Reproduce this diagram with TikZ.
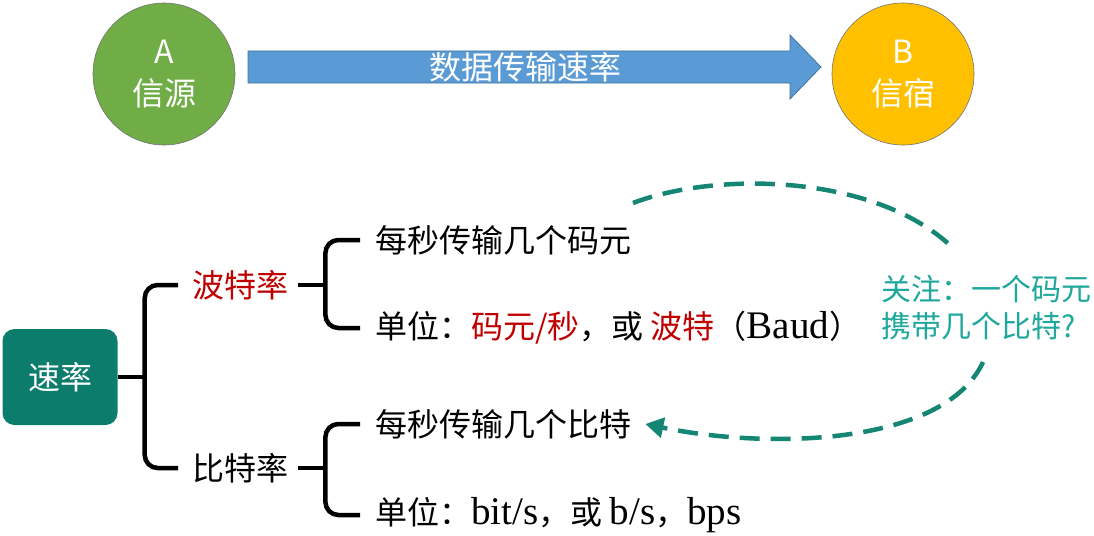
\documentclass[tikz,border=0pt]{standalone}
\usepackage{fontspec}
\newfontfamily\cjk{Noto Sans CJK SC}
\newfontfamily\latinserif[Scale=1.22]{Liberation Serif}
\usepackage{xcolor}
\definecolor{srcgreen}{HTML}{70AD47}
\definecolor{sinkgold}{HTML}{FFC000}
\definecolor{pipeblue}{HTML}{5B9BD5}
\definecolor{pipeedge}{HTML}{41719C}
\definecolor{ratebox}{HTML}{0C7D6D}
\definecolor{notecyan}{HTML}{1DA89B}
\definecolor{dashteal}{HTML}{148673}
\definecolor{baudred}{HTML}{C00000}
\usetikzlibrary{positioning, calc, arrows.meta}

\begin{document}
\begin{tikzpicture}[x=1pt, y=-1pt,
  every node/.style={inner sep=0pt, font=\cjk\fontsize{32}{36}\selectfont},
  station/.style={circle, draw=black!55, line width=0.6pt, minimum size=142pt,
    text=white, align=center, font=\cjk\fontsize{32}{42}\selectfont},
  leaf/.style={anchor=west},
  brk/.style={line width=4.5pt, rounded corners=13pt},
  hint/.style={dashteal, line width=4.5pt, dash pattern=on 20pt off 11pt},
]
\useasboundingbox[fill=white] (0,0) rectangle (1094,535);

% 信源 -> 信宿
\node[station, fill=srcgreen] (src) at (164,74) {A\\信源};
\node[station, fill=sinkgold] (sink) at (903,74) {B\\信宿};
\fill[pipeblue, draw=pipeedge, line width=0.8pt]
  (248,51) -- (790,51) -- (790,35) -- (821,67) -- (790,99) -- (790,83) -- (248,83) -- cycle;
\node[text=white] (pipe) at (525,67) {数据传输速率};

% 速率
\node[rounded corners=12pt, fill=ratebox, minimum width=115pt, minimum height=96pt,
  text=white] (rate) at (60,377) {速率};
\node[leaf, text=baudred] (baud) at (192,285) {波特率};
\node[leaf] (bit) at (192,468) {比特率};

\node[leaf] (symdef) at (375,240) {每秒传输几个码元};
\node[leaf] (symunit) at (375,328)
  {单位：\textcolor{baudred}{码元/秒}，或 \textcolor{baudred}{波特}（{\latinserif Baud}）};
\node[leaf] (bitdef) at (375,424) {每秒传输几个比特};
\node[leaf] (bitunit) at (375,515)
  {单位：{\latinserif bit/s}，或 {\latinserif b/s}，{\latinserif bps}};

\node[anchor=west, text=notecyan, align=left, font=\cjk\fontsize{30}{37}\selectfont]
  (note) at (881,308) {关注：一个码元\\携带几个比特?};

% 括号
\draw[brk] (rate.east) -- ++(27,0) coordinate (j0);
\draw[brk] ([xshift=-14pt]baud.west) -- (baud.west -| j0) -- (bit.west -| j0)
  -- ([xshift=-14pt]bit.west);

\draw[brk] ([xshift=10pt]baud.east) -- ++(27,0) coordinate (j1);
\draw[brk] ([xshift=-15pt]symdef.west) -- (symdef.west -| j1) -- (symunit.west -| j1)
  -- ([xshift=-15pt]symunit.west);

\draw[brk] ([xshift=10pt]bit.east) -- ++(27,0) coordinate (j2);
\draw[brk] ([xshift=-15pt]bitdef.west) -- (bitdef.west -| j2) -- (bitunit.west -| j2)
  -- ([xshift=-15pt]bitunit.west);

% 关注
\coordinate (h1) at (633,203);
\coordinate (h2) at (955,250);
\coordinate (h3) at (983,362);
\draw[hint] (h1) .. controls (720,170) and (880,175) .. (h2);
\draw[hint, -{Triangle[length=18pt,width=20pt]}]
  (h3) .. controls (945,445) and (770,450) .. ([xshift=14pt]bitdef.east);

\end{tikzpicture}
\end{document}
